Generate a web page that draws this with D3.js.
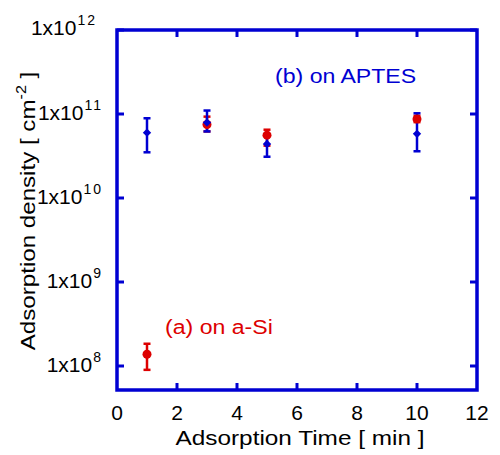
<!DOCTYPE html>
<html>
<head>
<meta charset="utf-8">
<script src="https://cdn.jsdelivr.net/npm/d3@7"></script>
<style>
  body { margin: 0; background: #fff; }
  text { font-family: "Liberation Sans", Arial, Helvetica, sans-serif; }
</style>
</head>
<body>
<script>
    // data
    let times = [1, 3, 5, 10];

    // (a) on a-Si  (red)
    let siValues = [1.38e8, 7.5e10, 5.6e10, 8.7e10];
    let siLow = [9.0e7, 6.2e10, 4.2e10, 8.0e10];
    let siHigh = [1.84e8, 9.3e10, 6.5e10, 9.5e10];

    // (b) on APTES  (blue)
    let aptesValues = [6.0e10, 7.9e10, 4.4e10, 5.8e10];
    let aptesLow = [3.5e10, 6.2e10, 3.1e10, 3.6e10];
    let aptesHigh = [8.9e10, 1.1e11, 5.7e10, 1.02e11];

    let xTicks = [0, 2, 4, 6, 8, 10, 12];
    let yExponents = [8, 9, 10, 11, 12];

    let width = 500, height = 455;
    let plotLeft = 117, plotRight = 477, plotTop = 30, plotBottom = 390;

    let blue = "#0000d2",
        red = "#dd0000";

    let svg = d3.select("body").append("svg")
        .attr("width", width)
        .attr("height", height);

    let x = d3.scaleLinear().domain([0, 12]).range([plotLeft, plotRight]);
    let y = d3.scaleLog().domain([Math.pow(10, 12 - 360 / 84), 1e12]).range([plotBottom, plotTop]);

    // ticks, inward on all four sides
    let tickLen = 7;
    let axes = svg.append("g");
    xTicks.slice(1, -1).forEach(function(t){
        axes.append("line").attr("x1", x(t)).attr("x2", x(t))
            .attr("y1", plotBottom).attr("y2", plotBottom - tickLen);
        axes.append("line").attr("x1", x(t)).attr("x2", x(t))
            .attr("y1", plotTop).attr("y2", plotTop + tickLen);
    });
    yExponents.forEach(function(e){
        let v = Math.pow(10, e);
        axes.append("line").attr("x1", plotLeft).attr("x2", plotLeft + tickLen)
            .attr("y1", y(v)).attr("y2", y(v));
        axes.append("line").attr("x1", plotRight).attr("x2", plotRight - tickLen)
            .attr("y1", y(v)).attr("y2", y(v));
    });
    axes.selectAll("line").attr("stroke", blue).attr("stroke-width", 3);

    axes.append("rect")
        .attr("x", plotLeft).attr("y", plotTop)
        .attr("width", plotRight - plotLeft).attr("height", plotBottom - plotTop)
        .attr("fill", "none")
        .attr("stroke", blue)
        .attr("stroke-width", 3.5);

    // x tick labels
    svg.selectAll(".xlab")
        .data(xTicks)
        .enter().append("text")
        .attr("x", function(d){ return x(d); })
        .attr("y", 420)
        .attr("text-anchor", "middle")
        .style("font-size", "21px")
        .text(function(d){ return d; });

    // y tick labels 1x10^n  (top one sits a little further left in the original)
    let ylab = svg.selectAll(".ylab")
        .data(yExponents)
        .enter().append("text")
        .attr("x", function(d){ return d === 12 ? 97 : 103; })
        .attr("y", function(d){ return y(Math.pow(10, d)) + (d === 12 ? 5 : 6); })
        .attr("text-anchor", "end")
        .style("font-size", "21px");
    ylab.append("tspan").text("1x10");
    ylab.append("tspan")
        .attr("dy", -10)
        .attr("dx", 1)
        .style("font-size", "14px")
        .style("letter-spacing", "2px")
        .text(function(d){ return d; });

    // axis titles (original lettering is a bit wider than Arial)
    svg.append("text")
        .attr("transform", "translate(" + ((plotLeft + plotRight) / 2 + 3) + ",445) scale(1.16,1)")
        .attr("text-anchor", "middle")
        .style("font-size", "21px")
        .text("Adsorption Time [ min ]");

    let yt = svg.append("text")
        .attr("transform", "translate(35,211) rotate(-90) scale(1.15,1)")
        .attr("text-anchor", "middle")
        .style("font-size", "21px");
    yt.append("tspan").text("Adsorption density [ cm");
    yt.append("tspan").attr("dy", -9).style("font-size", "14px").text("-2");
    yt.append("tspan").attr("dy", 9).text(" ]");

    // error bars
    function errorBars(lo, hi, color){
        let g = svg.append("g").attr("stroke", color).attr("stroke-width", 2.5);
        times.forEach(function(t, i){
            g.append("line").attr("x1", x(t)).attr("x2", x(t))
                .attr("y1", y(lo[i])).attr("y2", y(hi[i]));
            [lo[i], hi[i]].forEach(function(v){
                g.append("line").attr("x1", x(t) - 3.5).attr("x2", x(t) + 3.5)
                    .attr("y1", y(v)).attr("y2", y(v));
            });
        });
    }
    errorBars(siLow, siHigh, red);
    errorBars(aptesLow, aptesHigh, blue);

    // markers
    svg.selectAll(".si")
        .data(siValues)
        .enter().append("circle")
        .attr("cx", function(d, i){ return x(times[i]); })
        .attr("cy", function(d){ return y(d); })
        .attr("r", 4.5)
        .attr("fill", red);

    svg.selectAll(".aptes")
        .data(aptesValues)
        .enter().append("path")
        .attr("transform", function(d, i){ return "translate(" + x(times[i]) + "," + y(d) + ")"; })
        .attr("d", d3.symbol().type(d3.symbolDiamond2).size(45))
        .attr("fill", blue);

    // series labels
    svg.append("text")
        .attr("transform", "translate(275,83) scale(1.1,1)")
        .style("font-size", "21px")
        .attr("fill", blue)
        .text("(b) on APTES");

    svg.append("text")
        .attr("transform", "translate(165,334) scale(1.1,1)")
        .style("font-size", "21px")
        .attr("fill", red)
        .text("(a) on a-Si");
</script>
</body>
</html>
